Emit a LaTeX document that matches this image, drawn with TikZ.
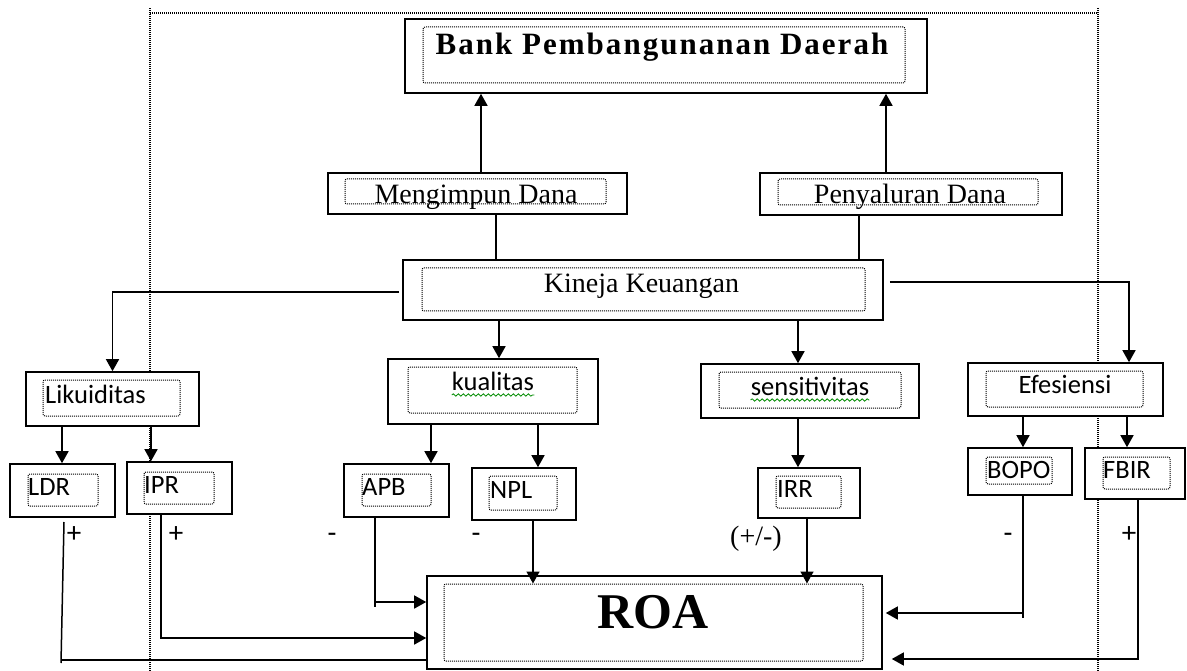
\documentclass[tikz,border=0pt]{standalone}
\usepackage{fontspec}
\setmainfont{Liberation Serif}
\newfontfamily\lblsans{Carlito}
\newfontfamily\bankfont[LetterSpace=6.5]{Liberation Serif}
\usetikzlibrary{arrows.meta,decorations.pathmorphing}
\begin{document}
\begin{tikzpicture}[x=1pt,y=-1pt,
 obox/.style={draw, fill=white, line width=1.6pt, inner sep=0pt},
 ibox/.style={draw, line width=1pt, dash pattern=on 1pt off 1pt, rounded corners=2pt, inner sep=0pt},
 arr/.style={line width=1.5pt, -{Triangle[length=12pt,width=13pt]}},
 ln/.style={line width=1.5pt},
 framel/.style={line width=1.1pt, dash pattern=on 1pt off 1pt},
 sl/.style={font=\lblsans\fontsize{26.5}{30}\selectfont, inner sep=0pt},
 sg/.style={font=\lblsans\fontsize{29}{32}\selectfont, inner sep=0pt},
 srf/.style={font=\fontsize{28}{32}\selectfont, inner sep=0pt},
 squig/.style={draw=green!55!black, line width=0.8pt, decorate, decoration={snake, amplitude=1.2pt, segment length=5pt}}
]
\useasboundingbox (0,0) rectangle (1187,671);
% outer dotted frame
\draw[framel] (150,671) -- (150,8);
\draw[framel] (150,13) -- (1098,13);
\draw[framel] (1098,8) -- (1098,671);

% boxes
\node[obox, minimum width=522pt, minimum height=74pt] (bank) at (666,56) {};
\node[ibox, minimum width=482pt, minimum height=56pt] (bankI) at (664,55) {};
\node[obox, minimum width=299pt, minimum height=41pt] (meng) at (477.5,193.5) {};
\node[ibox, minimum width=261pt, minimum height=25pt] (mengI) at (475.5,191.5) {};
\node[obox, minimum width=302pt, minimum height=42pt] (peny) at (911,194) {};
\node[ibox, minimum width=260pt, minimum height=26pt] (penyI) at (908,192) {};
\node[obox, minimum width=480pt, minimum height=60pt] (kin) at (643,290) {};
\node[ibox, minimum width=443pt, minimum height=43pt] (kinI) at (643.5,289.5) {};
\node[obox, minimum width=173pt, minimum height=54pt] (lik) at (112.5,399) {};
\node[ibox, minimum width=137pt, minimum height=36pt] (likI) at (111.5,398) {};
\node[obox, minimum width=210pt, minimum height=65pt] (kual) at (493,391.5) {};
\node[ibox, minimum width=169pt, minimum height=46pt] (kualI) at (492.5,390) {};
\node[obox, minimum width=218pt, minimum height=54pt] (sens) at (810,391) {};
\node[ibox, minimum width=182pt, minimum height=36pt] (sensI) at (810,390) {};
\node[obox, minimum width=195pt, minimum height=53pt] (efes) at (1065.5,389.5) {};
\node[ibox, minimum width=157pt, minimum height=36pt] (efesI) at (1064.5,389) {};
\node[obox, minimum width=105pt, minimum height=53pt] (ldr) at (62.5,490.5) {};
\node[ibox, minimum width=70pt, minimum height=32pt] (ldrI) at (63,490) {};
\node[obox, minimum width=105pt, minimum height=52pt] (ipr) at (179.5,488) {};
\node[ibox, minimum width=70pt, minimum height=32pt] (iprI) at (179,488) {};
\node[obox, minimum width=105pt, minimum height=53pt] (apb) at (396.5,490.5) {};
\node[ibox, minimum width=69pt, minimum height=32pt] (apbI) at (396.5,490) {};
\node[obox, minimum width=104pt, minimum height=52pt] (npl) at (524,494) {};
\node[ibox, minimum width=68pt, minimum height=34pt] (nplI) at (523,493) {};
\node[obox, minimum width=102pt, minimum height=50pt] (irr) at (809,493) {};
\node[ibox, minimum width=65pt, minimum height=32pt] (irrI) at (808.5,492) {};
\node[obox, minimum width=104pt, minimum height=47pt] (bopo) at (1020,471.5) {};
\node[ibox, minimum width=66pt, minimum height=27pt] (bopoI) at (1019,470.5) {};
\node[obox, minimum width=100pt, minimum height=51pt] (fbir) at (1135,473.5) {};
\node[ibox, minimum width=67pt, minimum height=32pt] (fbirI) at (1136.5,473) {};
\node[obox, minimum width=455pt, minimum height=93pt] (roa) at (654.5,622.5) {};
\node[ibox, minimum width=419pt, minimum height=77pt] (roaI) at (653.5,622.5) {};

% texts
\node[inner sep=0pt, anchor=base, font=\bankfont\bfseries\fontsize{31}{34}\selectfont] (tBank) at (662,55) {Bank Pembangunanan Daerah};
\node[srf, anchor=base] (tMeng) at (476,204) {Mengimpun Dana};
\node[srf, anchor=base] (tPeny) at (910,204) {Penyaluran Dana};
\node[srf, anchor=base] (tKin) at (641.5,293) {Kineja Keuangan};
\node[inner sep=0pt, anchor=base, font=\bfseries\fontsize{50}{53}\selectfont] (tRoa) at (653,628) {ROA};
\node[sl, anchor=base west] (tLik) at (45,403) {Likuiditas};
\node[sl, anchor=base] (tKual) at (493,390) {kualitas};
\node[sl, anchor=base] (tSens) at (810,395) {sensitivitas};
\node[sl, anchor=base] (tEfes) at (1065,393) {Efesiensi};
\node[sl, anchor=base west] (tLdr) at (28,495) {LDR};
\node[sl, anchor=base west] (tIpr) at (144,493) {IPR};
\node[sl, anchor=base west] (tApb) at (362,495) {APB};
\node[sl, anchor=base west] (tNpl) at (490,498) {NPL};
\node[sl, anchor=base west] (tIrr) at (777,497) {IRR};
\node[sl, anchor=base west] (tBopo) at (987,478) {BOPO};
\node[sl, anchor=base west] (tFbir) at (1103,478) {FBIR};
% spell-check squiggles
\draw[squig] (tKual.base west |- 0,395) -- (tKual.base east |- 0,395);
\draw[squig] (tSens.base west |- 0,400) -- (tSens.base east |- 0,400);

% sign labels
\node[sg, anchor=base] (pLdr) at (74,542) {+};
\node[sg, anchor=base] (pIpr) at (176,542) {+};
\node[sg, anchor=base] (mApb) at (332,542) {-};
\node[sg, anchor=base] (mNpl) at (476,542) {-};
\node[srf, anchor=base] (pmIrr) at (756,545) {(+/-)};
\node[sg, anchor=base] (mBopo) at (1008,542) {-};
\node[sg, anchor=base] (pFbir) at (1129,542) {+};

% connectors upward
\draw[arr] (meng.north -| 481,0) -- (bank.south -| 481,0);
\draw[arr] (peny.north -| 886,0) -- (bank.south -| 886,0);
\draw[ln] (meng.south -| 496,0) -- (kin.north -| 496,0);
\draw[ln] (peny.south -| 859,0) -- (kin.north -| 859,0);
% from Kineja
\draw[arr] ([xshift=-3pt,yshift=-2pt]kin.west) -| (lik.north);
\draw[arr] ([xshift=6pt,yshift=8pt]kin.east) -| (efes.north -| 1129,0);
\draw[arr] (kin.south -| 499,0) -- (kual.north -| 499,0);
\draw[arr] (kin.south -| 798,0) -- (sens.north -| 798,0);
% second level
\draw[arr] (lik.south -| 62,0) -- (ldr.north -| 62,0);
\draw[arr] (lik.south -| 151,0) -- (ipr.north -| 151,0);
\draw[arr] (kual.south -| 431,0) -- (apb.north -| 431,0);
\draw[arr] (kual.south -| 538,0) -- (npl.north -| 538,0);
\draw[arr] (sens.south -| 798,0) -- (irr.north -| 798,0);
\draw[arr] (efes.south -| 1023,0) -- (bopo.north -| 1023,0);
\draw[arr] (efes.south -| 1127,0) -- (fbir.north -| 1127,0);
% into ROA
\draw[arr] (npl.south -| 533,0) -- (roaI.north -| 533,0);
\draw[arr] (irr.south -| 807,0) -- (roaI.north -| 807,0);
\draw[ln] (apb.south -| 375,0) -- (375,607);
\draw[arr] (375,602) -- (roa.west |- 0,602);
\draw[arr] (ipr.south -| 161,0) |- (roa.west |- 0,638);
\coordinate (ldrT) at (64,522);
\coordinate (ldrB) at (61,663);
\draw[ln] (ldrT) -- (ldrB);
\draw[ln] (61,660) -- (roa.west |- 0,660);
\draw[ln] (bopo.south -| 1023,0) -- (1023,618);
\draw[arr] (1023,613) -- ([xshift=3pt]roa.east |- 0,613);
\draw[arr] (fbir.south -| 1138,0) |- ([xshift=9pt]roa.east |- 0,659);
\end{tikzpicture}
\end{document}
